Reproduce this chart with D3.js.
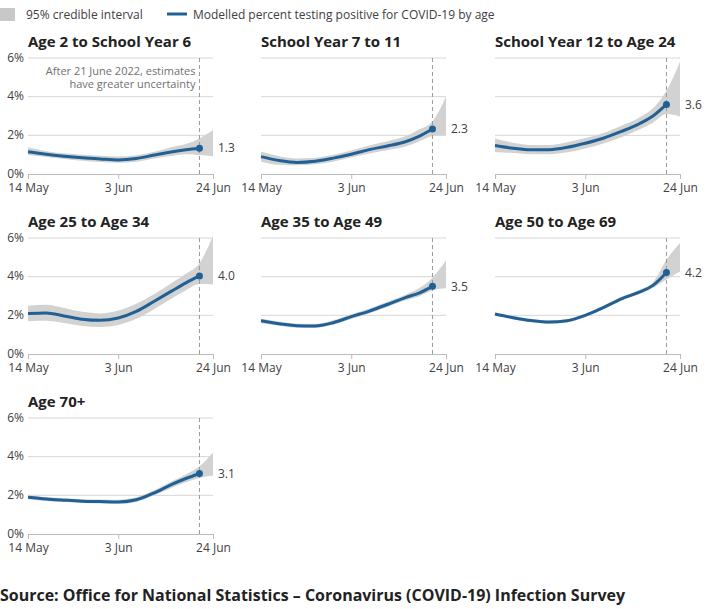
<!DOCTYPE html>
<html>
<head>
<meta charset="utf-8">
<script src="https://cdn.jsdelivr.net/npm/d3@7"></script>
<style>
  body { margin: 0; background: #fff; }
  svg text { font-family: "Open Sans", sans-serif; }
</style>
</head>
<body>
<script>
// estimates run 14 May - 21 Jun, the credible interval runs on to 24 Jun
var estDates = ["2022-05-14","2022-05-18","2022-05-22","2022-05-26","2022-05-30","2022-06-03",
                "2022-06-07","2022-06-11","2022-06-15","2022-06-18","2022-06-21"];
var bandDates = estDates.concat(["2022-06-24"]);
var tickDates = ["2022-05-14","2022-06-03","2022-06-24"];
var yTicks = [0, 2, 4, 6];
var cutoffDate = "2022-06-21";

var groups = ["Age 2 to School Year 6", "School Year 7 to 11", "School Year 12 to Age 24",
              "Age 25 to Age 34", "Age 35 to Age 49", "Age 50 to Age 69", "Age 70+"];

var estimate = [
  [1.15,1.02,0.92,0.84,0.78,0.73,0.8,0.98,1.15,1.25,1.33],
  [0.9,0.7,0.6,0.66,0.82,1.02,1.26,1.45,1.67,1.95,2.33],
  [1.47,1.33,1.25,1.26,1.38,1.59,1.85,2.2,2.6,3.0,3.6],
  [2.09,2.12,1.97,1.8,1.74,1.86,2.2,2.73,3.28,3.68,4.04],
  [1.72,1.57,1.46,1.45,1.62,1.93,2.22,2.56,2.92,3.15,3.5],
  [2.07,1.88,1.73,1.65,1.72,2.0,2.4,2.85,3.2,3.55,4.22],
  [1.9,1.81,1.75,1.7,1.68,1.66,1.77,2.13,2.58,2.87,3.13]
];
var lower = [
  [0.98,0.88,0.77,0.68,0.62,0.58,0.64,0.8,0.95,1.02,0.98,0.92],
  [0.64,0.48,0.45,0.5,0.64,0.85,1.06,1.23,1.42,1.68,1.97,2.02],
  [1.12,1.08,1.02,1.02,1.12,1.32,1.58,1.9,2.3,2.65,3.1,2.97],
  [1.7,1.72,1.6,1.45,1.4,1.5,1.82,2.33,2.9,3.3,3.62,3.6],
  [1.6,1.46,1.36,1.35,1.51,1.81,2.1,2.43,2.78,2.98,3.3,3.4],
  [1.99,1.8,1.65,1.57,1.64,1.92,2.31,2.76,3.1,3.42,3.85,4.27],
  [1.8,1.71,1.65,1.6,1.58,1.56,1.66,2.0,2.4,2.68,2.9,3.03]
];
var upper = [
  [1.38,1.18,1.07,0.99,0.94,0.9,0.97,1.15,1.4,1.55,1.84,2.28],
  [1.16,0.92,0.8,0.84,1.0,1.22,1.48,1.7,1.95,2.3,2.72,4.0],
  [1.84,1.62,1.5,1.5,1.64,1.86,2.12,2.5,2.92,3.4,4.3,5.8],
  [2.5,2.55,2.38,2.18,2.1,2.25,2.6,3.1,3.7,4.15,4.7,6.1],
  [1.84,1.68,1.57,1.56,1.74,2.05,2.35,2.7,3.07,3.4,3.95,4.83],
  [2.15,1.96,1.81,1.73,1.8,2.08,2.49,2.95,3.32,3.7,4.88,5.74],
  [2.0,1.91,1.85,1.8,1.78,1.77,1.9,2.27,2.74,3.08,3.5,4.22]
];

var parse = d3.timeParse("%Y-%m-%d");
var blue = "#206095", band = "#d2d2d2", textCol = "#414042";

var svg = d3.select("body").append("svg")
    .attr("width", 708)
    .attr("height", 609);

// legend
svg.append("rect").attr("x", 0).attr("y", 8).attr("width", 15).attr("height", 13).attr("fill", "#c8c8c8");
svg.append("text").attr("x", 26).attr("y", 19).attr("font-size", 12).attr("fill", textCol)
    .text("95% credible interval");
svg.append("line").attr("x1", 167).attr("x2", 187).attr("y1", 14).attr("y2", 14)
    .attr("stroke", blue).attr("stroke-width", 3);
svg.append("text").attr("x", 193).attr("y", 19).attr("font-size", 12).attr("fill", textCol)
    .text("Modelled percent testing positive for COVID-19 by age");

var w = 185, h = 116;
var x = d3.scaleTime()
    .domain([parse("2022-05-14"), parse("2022-06-24")])
    .range([0, w]);
var y = d3.scaleLinear().domain([0, 6]).range([h, 0]);

var colX = [28, 261, 495];
var rowY = [58, 238, 418];

var area = d3.area()
    .x(function(d) { return x(d.date); })
    .y0(function(d) { return y(d.lo); })
    .y1(function(d) { return y(d.hi); })
    .curve(d3.curveMonotoneX);

var line = d3.line()
    .x(function(d) { return x(d.date); })
    .y(function(d) { return y(d.v); })
    .curve(d3.curveMonotoneX);

groups.forEach(function(name, i) {
  var col = i % 3, row = Math.floor(i / 3);
  var g = svg.append("g")
      .attr("transform", "translate(" + colX[col] + "," + rowY[row] + ")");

  g.append("text")
      .attr("x", 0).attr("y", -11)
      .attr("font-size", 15).attr("font-weight", "bold").attr("fill", "#222")
      .text(name);

  // gridlines
  g.selectAll(".grid")
    .data(yTicks.slice(1))
    .enter().append("line")
      .attr("x1", 0).attr("x2", w)
      .attr("y1", function(d) { return y(d); })
      .attr("y2", function(d) { return y(d); })
      .attr("stroke", "#d6d6d6").attr("stroke-width", 1);

  if (col == 0) {
    g.selectAll(".ylab")
      .data(yTicks)
      .enter().append("text")
        .attr("x", -4).attr("y", function(d) { return y(d); })
        .attr("dy", "0.3em")
        .attr("text-anchor", "end")
        .attr("font-size", 12).attr("fill", textCol)
        .text(function(d) { return d + "%"; });
  }

  var xAxis = d3.axisBottom(x)
      .tickValues(tickDates.map(parse))
      .tickFormat(d3.timeFormat("%-d %b"))
      .tickSize(5)
      .tickSizeOuter(0);

  var ax = g.append("g")
      .attr("transform", "translate(0," + h + ")")
      .call(xAxis);
  ax.select(".domain").attr("stroke", "#bcbcbc");
  ax.selectAll(".tick line").attr("stroke", "#bcbcbc");
  ax.selectAll(".tick text")
      .attr("font-family", "Open Sans, sans-serif")
      .attr("font-size", 12).attr("fill", textCol).attr("dy", "0.8em");

  var bandData = bandDates.map(function(d, j) {
    return { date: parse(d), lo: lower[i][j], hi: upper[i][j] };
  });
  g.append("path").datum(bandData)
      .attr("d", area).attr("fill", band);

  // cut-off line
  g.append("line")
      .attr("x1", x(parse(cutoffDate))).attr("x2", x(parse(cutoffDate)))
      .attr("y1", 0).attr("y2", h)
      .attr("stroke", "#999").attr("stroke-dasharray", "4,3");

  var estData = estDates.map(function(d, j) {
    return { date: parse(d), v: estimate[i][j] };
  });
  g.append("path").datum(estData)
      .attr("d", line).attr("fill", "none")
      .attr("stroke", blue).attr("stroke-width", 3);

  var last = estData[estData.length - 1];
  g.append("circle")
      .attr("cx", x(last.date)).attr("cy", y(last.v))
      .attr("r", 3.5).attr("fill", blue);

  g.append("text")
      .attr("x", w + 5).attr("y", y(last.v)).attr("dy", "0.35em")
      .attr("font-size", 12).attr("fill", textCol)
      .text(last.v.toFixed(1));

  if (i == 0) {
    var note = g.append("text")
        .attr("text-anchor", "end")
        .attr("font-size", 11).attr("fill", "#707070");
    note.append("tspan").attr("x", x(parse(cutoffDate)) - 4).attr("y", 17)
        .text("After 21 June 2022, estimates");
    note.append("tspan").attr("x", x(parse(cutoffDate)) - 4).attr("y", 30)
        .text("have greater uncertainty");
  }
});

svg.append("text")
    .attr("x", 0).attr("y", 601)
    .attr("font-size", 16).attr("font-weight", "bold").attr("fill", "#222")
    .attr("textLength", 625).attr("lengthAdjust", "spacingAndGlyphs")
    .text("Source: Office for National Statistics \u2013 Coronavirus (COVID-19) Infection Survey");
</script>
</body>
</html>
